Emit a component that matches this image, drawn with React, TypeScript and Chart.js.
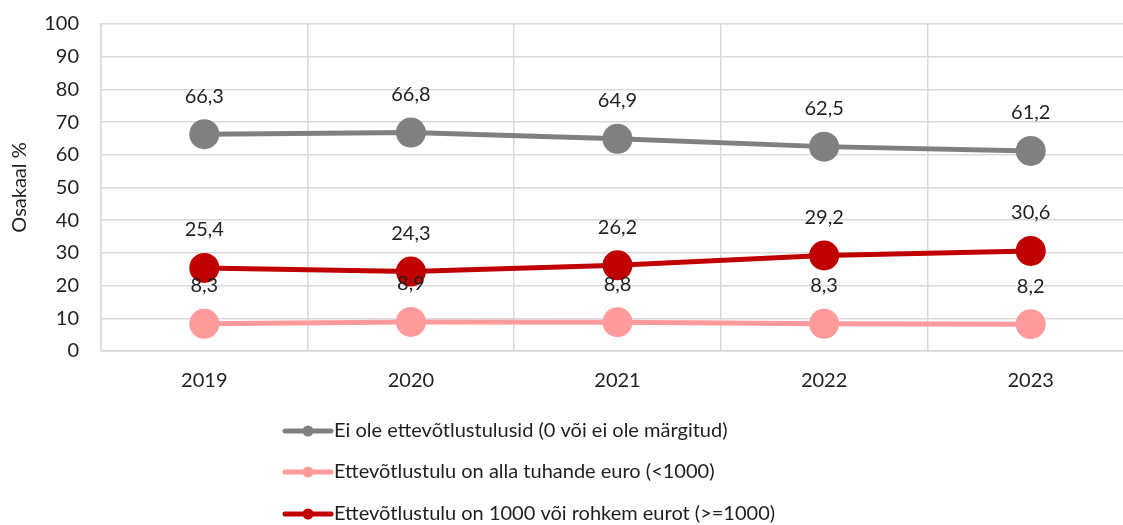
import React, { useEffect, useRef } from "react";
import { Chart, registerables } from "chart.js";

Chart.register(...registerables);

const years = ["2019", "2020", "2021", "2022", "2023"];
const noIncome = [66.3, 66.8, 64.9, 62.5, 61.2];
const under1000 = [8.3, 8.9, 8.8, 8.3, 8.2];
const over1000 = [25.4, 24.3, 26.2, 29.2, 30.6];
const seriesNames = [
  "Ei ole ettevõtlustulusid (0 või ei ole märgitud)",
  "Ettevõtlustulu on alla tuhande euro (<1000)",
  "Ettevõtlustulu on 1000 või rohkem eurot (>=1000)",
];
const seriesColors = ["#808080", "#FF9B9B", "#C00000"];
const yTitle = "Osakaal %";

const FONT = "Lato, 'Open Sans', sans-serif";
const TEXT = "#1F1F1F";

const fmt = (v: number) => v.toFixed(1).replace(".", ",");

const labelPlugin = {
  id: "pointValueLabels",
  afterDatasetsDraw(chart: any) {
    const ctx = chart.ctx;
    ctx.save();
    ctx.font = `20px ${FONT}`;
    ctx.fillStyle = TEXT;
    ctx.textAlign = "center";
    ctx.textBaseline = "middle";
    chart.data.datasets.forEach((ds: any, i: number) => {
      const meta = chart.getDatasetMeta(i);
      meta.data.forEach((pt: any, j: number) => {
        ctx.fillText(fmt(ds.data[j]), pt.x, pt.y - 38);
      });
    });
    ctx.restore();
  },
};

const legendPlugin = {
  id: "stackedLegend",
  afterDraw(chart: any) {
    const ctx = chart.ctx;
    const x0 = 285;
    const x1 = 331;
    const rows = [431, 472, 514];
    ctx.save();
    ctx.font = `20px ${FONT}`;
    ctx.textAlign = "left";
    ctx.textBaseline = "middle";
    chart.data.datasets.forEach((ds: any, i: number) => {
      const y = rows[i];
      ctx.strokeStyle = ds.borderColor;
      ctx.lineWidth = 5;
      ctx.lineCap = "round";
      ctx.beginPath();
      ctx.moveTo(x0, y);
      ctx.lineTo(x1, y);
      ctx.stroke();
      ctx.fillStyle = ds.borderColor;
      ctx.beginPath();
      ctx.arc((x0 + x1) / 2, y, 5.5, 0, Math.PI * 2);
      ctx.fill();
      ctx.fillStyle = TEXT;
      ctx.fillText(ds.label, x1 + 3, y);
    });
    ctx.restore();
  },
};

export default function App() {
  const ref = useRef<HTMLCanvasElement | null>(null);

  useEffect(() => {
    if (!ref.current) return;
    const mk = (i: number, data: number[]) => ({
      label: seriesNames[i],
      data,
      borderColor: seriesColors[i],
      backgroundColor: seriesColors[i],
      borderWidth: 5,
      pointRadius: 15,
      pointHoverRadius: 15,
      pointBorderWidth: 0,
      pointBackgroundColor: seriesColors[i],
      tension: 0,
      fill: false,
      clip: false,
    });
    const chart = new Chart(ref.current, {
      type: "line",
      data: {
        labels: years,
        datasets: [mk(0, noIncome), mk(1, under1000), mk(2, over1000)],
      },
      options: {
        responsive: false,
        animation: false,
        layout: { autoPadding: false, padding: { left: 0, top: 24, right: 6, bottom: 114 } },
        plugins: {
          legend: { display: false },
          tooltip: { enabled: false },
        },
        scales: {
          x: {
            offset: true,
            grid: { offset: true, color: "#D9D9D9", lineWidth: 1.5, drawTicks: false },
            border: { color: "#D9D9D9", width: 1.5 },
            ticks: { padding: 18, color: TEXT, font: { size: 20, family: FONT } },
          },
          y: {
            min: 0,
            max: 100,
            afterFit: (s: any) => {
              s.width = 101;
              s.paddingTop = 0;
              s.paddingBottom = 0;
            },
            grid: { color: "#D9D9D9", lineWidth: 1.5, drawTicks: false },
            border: { color: "#D9D9D9", width: 1.5 },
            ticks: {
              stepSize: 10,
              padding: 22,
              color: TEXT,
              font: { size: 20, family: FONT },
            },
            title: {
              display: true,
              text: yTitle,
              color: TEXT,
              font: { size: 20, family: FONT },
              padding: { top: 8, bottom: 0 },
            },
          },
        },
      },
      plugins: [labelPlugin, legendPlugin],
    });
    return () => chart.destroy();
  }, []);

  return (
    <div
      style={{
        position: "fixed",
        left: 0,
        top: 0,
        width: 1123,
        height: 525,
        overflow: "hidden",
        background: "#fff",
      }}
    >
      <canvas ref={ref} width={1140} height={525} style={{ display: "block" }} />
    </div>
  );
}
